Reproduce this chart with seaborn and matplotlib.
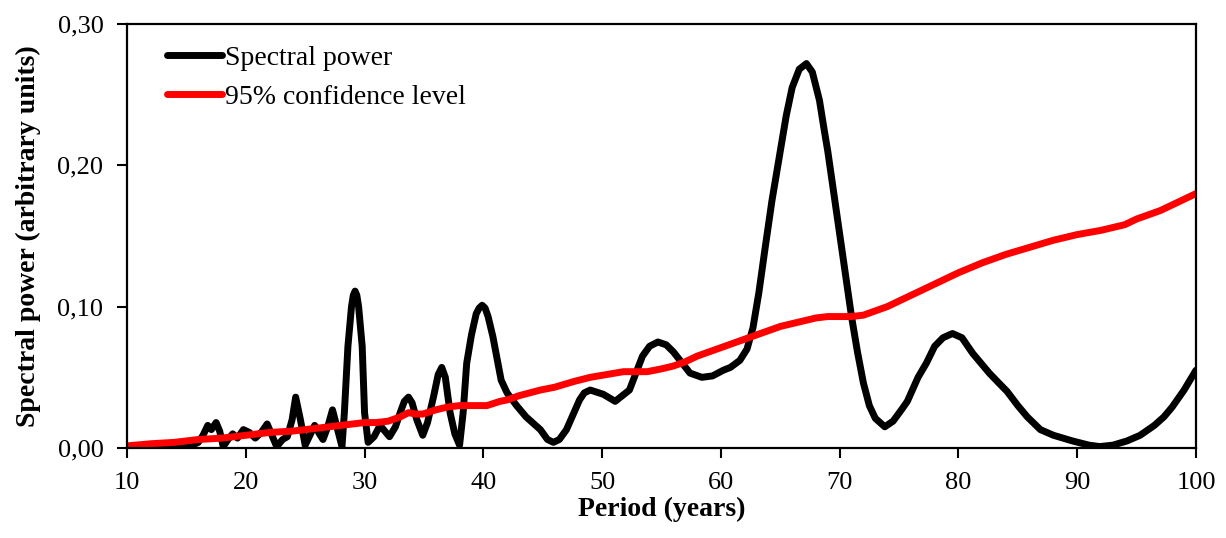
import matplotlib
matplotlib.use("Agg")
import matplotlib.pyplot as plt
import matplotlib.ticker as mticker
import pandas as pd
import seaborn as sns

# Spectral power of the series against period (years)
power_period = [
    10.0, 11.0, 12.0, 13.0, 13.5, 14.0, 14.5, 15.0, 15.5, 16.0, 16.4, 16.8,
    17.1, 17.5, 17.8, 18.1, 18.5, 18.9, 19.3, 19.8, 20.3, 20.8, 21.3, 21.8,
    22.2, 22.6, 23.1, 23.5, 23.9, 24.2, 24.6, 25.0, 25.4, 25.8, 26.2, 26.5,
    26.9, 27.3, 27.7, 28.1, 28.3, 28.6, 28.9, 29.05, 29.2, 29.35, 29.5, 29.8,
    30.0, 30.3, 30.8, 31.3, 31.7, 32.1, 32.6, 33.0, 33.35, 33.7, 34.0, 34.4,
    34.9, 35.3, 35.8, 36.2, 36.5, 36.8, 37.2, 37.6, 38.0, 38.3, 38.6, 39.0,
    39.4, 39.65, 39.9, 40.15, 40.4, 40.8, 41.5, 42.0, 42.8, 43.6, 44.8, 45.4,
    45.9, 46.4, 47.0, 48.1, 48.5, 49.0, 50.1, 51.1, 52.3, 53.4, 54.0, 54.7,
    55.4, 56.0, 57.4, 58.4, 59.3, 60.2, 60.8, 61.6, 62.2, 62.7, 63.2, 63.7,
    64.3, 65.0, 65.5, 66.0, 66.6, 67.2, 67.7, 68.3, 68.7, 69.0, 69.6, 70.2,
    71.0, 71.5, 72.0, 72.5, 73.0, 73.8, 74.5, 75.2, 75.7, 76.6, 77.3, 78.0,
    78.7, 79.5, 80.3, 81.2, 81.9, 82.6, 83.4, 84.1, 85.0, 85.8, 86.9, 88.0,
    89.6, 91.0, 91.9, 93.0, 94.2, 95.3, 96.5, 97.3, 98.0, 99.0, 100.0,
]
power_value = [
    0.001, 0.001, 0.0015, 0.002, 0.001, 0.003, 0.001, 0.003, 0.002, 0.004, 0.009, 0.016,
    0.013, 0.018, 0.012, 0.001, 0.006, 0.010, 0.007, 0.013, 0.011, 0.007, 0.011, 0.017,
    0.009, 0.001, 0.006, 0.008, 0.020, 0.036, 0.020, 0.002, 0.009, 0.016, 0.010, 0.006,
    0.015, 0.027, 0.014, 0.001, 0.025, 0.072, 0.100, 0.108, 0.111, 0.108, 0.100, 0.072,
    0.025, 0.004, 0.008, 0.016, 0.012, 0.008, 0.015, 0.025, 0.033, 0.036, 0.032, 0.020,
    0.009, 0.018, 0.036, 0.052, 0.057, 0.050, 0.025, 0.010, 0.002, 0.025, 0.060, 0.080,
    0.095, 0.099, 0.101, 0.099, 0.093, 0.079, 0.048, 0.039, 0.030, 0.022, 0.013, 0.006,
    0.004, 0.006, 0.013, 0.034, 0.039, 0.041, 0.038, 0.033, 0.041, 0.065, 0.072, 0.075,
    0.073, 0.068, 0.053, 0.050, 0.051, 0.055, 0.057, 0.062, 0.070, 0.085, 0.110, 0.140,
    0.175, 0.210, 0.235, 0.255, 0.268, 0.272, 0.266, 0.246, 0.225, 0.210, 0.175, 0.140,
    0.093, 0.068, 0.046, 0.030, 0.021, 0.015, 0.019, 0.027, 0.033, 0.050, 0.060, 0.072,
    0.078, 0.081, 0.078, 0.067, 0.060, 0.053, 0.046, 0.040, 0.030, 0.022, 0.013, 0.009,
    0.005, 0.002, 0.001, 0.002, 0.005, 0.009, 0.016, 0.022, 0.029, 0.041, 0.055,
]

# 95% confidence level of the red-noise background
conf_period = [
    10, 12, 14, 16, 18, 20, 22, 24, 26, 28, 29, 30, 31, 32, 33, 33.7, 34.3, 34.9,
    36, 37, 38, 39, 40.3, 41.4, 42, 43, 44.8, 46, 47.6, 49, 50.4, 51.8, 53.8,
    55, 56, 57, 58, 59, 60, 61, 62, 63, 64, 65, 66, 67, 68, 69, 70, 71, 72,
    73, 74, 75, 76, 77, 78, 79, 80, 82, 84, 86, 88, 90, 92, 94, 95, 96, 97,
    98, 99, 100,
]
conf_value = [
    0.0015, 0.003, 0.004, 0.006, 0.007, 0.009, 0.011, 0.012, 0.014, 0.016, 0.017,
    0.018, 0.018, 0.019, 0.022, 0.025, 0.024, 0.024, 0.027, 0.029, 0.030, 0.030,
    0.030, 0.033, 0.034, 0.037, 0.041, 0.043, 0.047, 0.050, 0.052, 0.054, 0.054,
    0.056, 0.058, 0.061, 0.065, 0.068, 0.071, 0.074, 0.077, 0.080, 0.083, 0.086,
    0.088, 0.090, 0.092, 0.093, 0.093, 0.093, 0.094, 0.097, 0.100, 0.104, 0.108,
    0.112, 0.116, 0.120, 0.124, 0.131, 0.137, 0.142, 0.147, 0.151, 0.154, 0.158,
    0.162, 0.165, 0.168, 0.172, 0.176, 0.180,
]

x_ticks = [10, 20, 30, 40, 50, 60, 70, 80, 90, 100]
y_ticks = [0.00, 0.10, 0.20, 0.30]
series_names = ["Spectral power", "95% confidence level"]
series_colors = ["#000000", "#ff0000"]

sns.set_style("ticks")
plt.rcParams["font.family"] = ["Liberation Serif", "DejaVu Serif"]
plt.rcParams["axes.linewidth"] = 1.6
plt.rcParams["text.color"] = "black"
plt.rcParams["axes.labelcolor"] = "black"

fig = plt.figure(figsize=(12.26, 5.38), dpi=100)
ax = fig.add_axes([0.1036, 0.1673, 0.8719, 0.7881])

power_df = pd.DataFrame({"period": power_period, "value": power_value})
conf_df = pd.DataFrame({"period": conf_period, "value": conf_value})

sns.lineplot(data=power_df, x="period", y="value", ax=ax, color=series_colors[0],
             linewidth=5.0, label=series_names[0], sort=False, estimator=None,
             solid_joinstyle="round", solid_capstyle="round")
sns.lineplot(data=conf_df, x="period", y="value", ax=ax, color=series_colors[1],
             linewidth=5.0, label=series_names[1], sort=False, estimator=None,
             solid_joinstyle="round", solid_capstyle="round")

ax.set_xlim(10, 100)
ax.set_ylim(0, 0.30)
ax.set_xticks(x_ticks)
ax.set_yticks(y_ticks)
ax.yaxis.set_major_formatter(
    mticker.FuncFormatter(lambda v, _: f"{v:.2f}".replace(".", ",")))

for side in ["top", "right", "left", "bottom"]:
    ax.spines[side].set_visible(True)
    ax.spines[side].set_color("black")
ax.tick_params(axis="both", direction="out", length=7, width=1.5,
               colors="black", labelcolor="black", labelsize=19, pad=10)

ax.set_xlabel("Period (years)", fontsize=20, fontweight="bold", labelpad=2,
              color="black")
ax.set_ylabel("Spectral power (arbitrary units)", fontsize=20,
              fontweight="bold", labelpad=12, color="black")

leg = ax.legend(loc="upper left", bbox_to_anchor=(0.037, 0.95), frameon=False,
                fontsize=20, handlelength=2.0, handletextpad=0.1,
                labelspacing=0.5, borderpad=0, borderaxespad=0)
for line in leg.get_lines():
    line.set_linewidth(5.0)
for text in leg.get_texts():
    text.set_color("black")

fig.savefig("out.png", dpi=100, facecolor="white")
